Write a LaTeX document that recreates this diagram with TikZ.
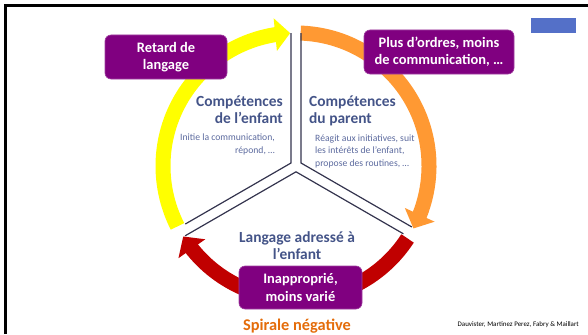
\documentclass[tikz,border=0pt]{standalone}
\usepackage{fontspec}
\setmainfont{Carlito}
\usetikzlibrary{arrows.meta}
\usetikzlibrary{bending}
\definecolor{boxpurple}{RGB}{128,0,128}
\definecolor{headblue}{RGB}{68,84,136}
\definecolor{noteblue}{RGB}{92,106,158}
\definecolor{sunyellow}{RGB}{255,255,0}
\definecolor{paleorange}{RGB}{255,153,51}
\definecolor{darkred}{RGB}{192,0,0}
\definecolor{spiralorange}{RGB}{228,108,10}
\definecolor{tagblue}{RGB}{84,112,200}
\definecolor{edgegray}{RGB}{52,52,78}
\tikzstyle{tagbox} = [rectangle, rounded corners=6bp, fill=boxpurple, draw=boxpurple!75!white,
line width=0.6bp, text=white, font=\bfseries\fontsize{14.5}{17.5}\selectfont, align=center, inner sep=0pt]
\tikzstyle{headtext} = [inner sep=0pt, text=headblue, font=\bfseries\fontsize{15.5}{17}\selectfont]
\tikzstyle{notetext} = [inner sep=0pt, text=noteblue, font=\fontsize{9.7}{12.5}\selectfont]
\tikzstyle{ring} = [line width=15bp]
\tikzstyle{spoke} = [draw=edgegray, line width=1.2bp]
\tikzset{>={Triangle[width=32bp,length=15bp]}}

\begin{document}
\begin{tikzpicture}[x=1bp, y=1bp]
  \useasboundingbox (0,0) rectangle (588,334);
  % slide frame and tag
  \draw[line width=3bp] (5.5,0) -- (5.5,328.3) -- (588,328.3);
  \fill[tagblue] (531,301) rectangle (576,316);

  \coordinate (o) at (296,168);
  \coordinate (cl) at (291,171);
  \coordinate (cr) at (301,171);
  \coordinate (cb) at (296,162.2);

  % cycle arrows
  \draw[ring, sunyellow, ->] ([shift={(207:133)}]o) arc[start angle=207, end angle=92.5, radius=133bp];
  \draw[ring, paleorange, ->] ([shift={(88:133)}]o) arc[start angle=88, end angle=-28, radius=133bp];
  \draw[ring, darkred, ->] ([shift={(-33:133)}]o) arc[start angle=-33, end angle=-148, radius=133bp];

  % three sectors
  \draw[spoke] ([shift={(0,130)}]cl) -- (cl) -- ++(210:122);
  \draw[spoke] ([shift={(0,130)}]cr) -- (cr) -- ++(330:128);
  \draw[spoke] ([shift={(210:128)}]cb) -- (cb) -- ++(330:124);

  % base = last line
  \node[headtext, anchor=base east, align=right] (kid) at (283,211) {Compétences\\de l’enfant};
  \node[notetext, anchor=base east, align=right] (kidnote) at (275,181) {Initie la communication,\\répond, …};
  \node[headtext, anchor=base west, align=left] (parent) at (309,211) {Compétences\\du parent};
  \node[notetext, anchor=base west, align=left] (parentnote) at (315,168) {Réagit aux initiatives, suit\\les intérêts de l’enfant,\\propose des routines, …};
  \node[headtext, anchor=base, align=center] (speech) at (297,75) {Langage adressé à\\l’enfant};

  \node[tagbox, minimum width=122bp, minimum height=44bp] (delay) at (166,277) {Retard de\\langage};
  \node[tagbox, minimum width=150bp, minimum height=44bp] (orders) at (439,282) {Plus d’ordres, moins\\de communication, …};
  \node[tagbox, minimum width=123bp, minimum height=43bp] (unfit) at (300.5,46.5) {Inapproprié,\\moins varié};

  \node[anchor=base, text=spiralorange, font=\bfseries\fontsize{16.4}{18}\selectfont, inner sep=0pt] (spiral) at (297,4) {Spirale négative};
  \node[anchor=base east, font=\fontsize{7}{8}\selectfont, inner sep=0pt] (credit) at (579,8) {Dauvister, Martinez Perez, Fabry \& Maillart};
\end{tikzpicture}
\end{document}
